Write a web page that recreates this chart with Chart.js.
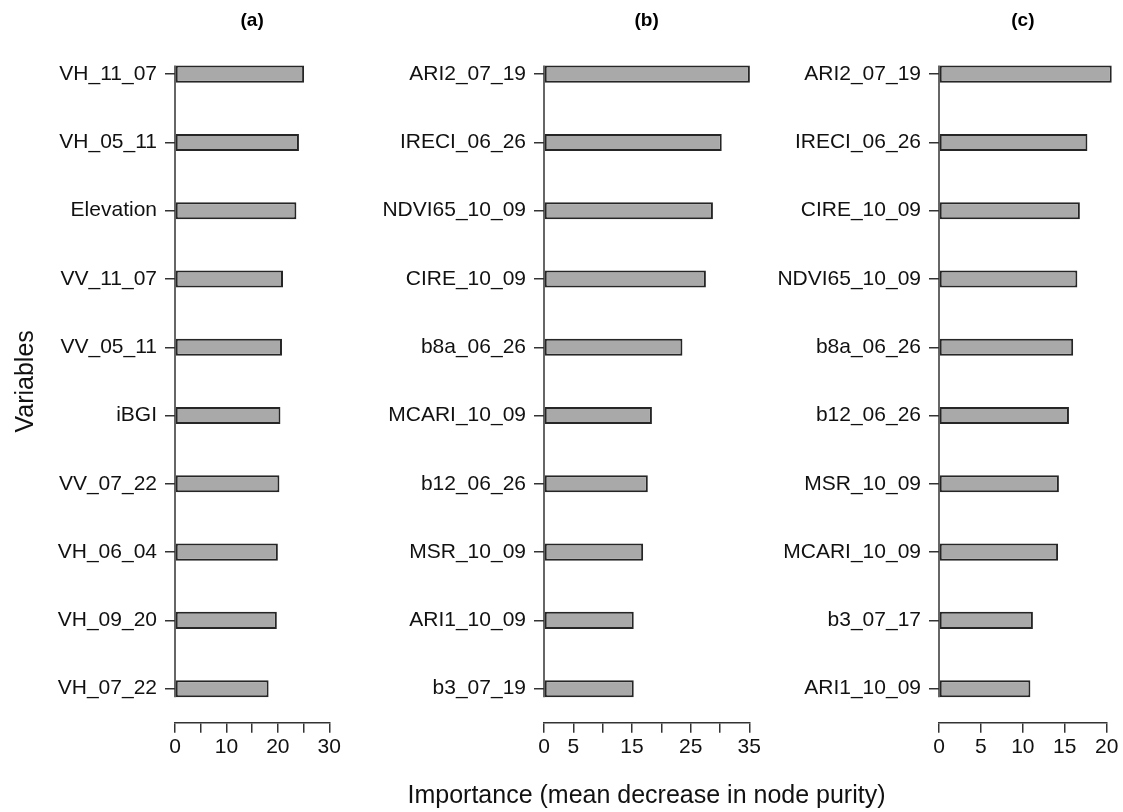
<!DOCTYPE html>
<html>
<head>
<meta charset="utf-8">
<script src="https://cdn.jsdelivr.net/npm/chart.js@4.4.1/dist/chart.umd.min.js"></script>
<style>
  html, body { margin: 0; padding: 0; background: #fff; }
  #page { position: relative; width: 1123px; height: 812px; overflow: hidden; background: #fff; }
  canvas { position: absolute; top: 0; }
</style>
</head>
<body>
<div id="page">
  <canvas id="chartA" width="345" height="812" style="left:0px"></canvas>
  <canvas id="chartB" width="543" height="812" style="left:375px"></canvas>
  <canvas id="chartC" width="363" height="812" style="left:760px"></canvas>
</div>
<script>
// ---- data ----
const labelsA = ['VH_11_07', 'VH_05_11', 'Elevation', 'VV_11_07', 'VV_05_11', 'iBGI', 'VV_07_22', 'VH_06_04', 'VH_09_20', 'VH_07_22'];
const valuesA = [25.1, 24.1, 23.6, 21.0, 20.8, 20.5, 20.3, 20.0, 19.8, 18.2];
const ticksA = [0, 10, 20, 30];

const labelsB = ['ARI2_07_19', 'IRECI_06_26', 'NDVI65_10_09', 'CIRE_10_09', 'b8a_06_26', 'MCARI_10_09', 'b12_06_26', 'MSR_10_09', 'ARI1_10_09', 'b3_07_19'];
const valuesB = [35.1, 30.3, 28.8, 27.6, 23.6, 18.4, 17.7, 16.9, 15.3, 15.3];
const ticksB = [0, 5, 15, 25, 35];

const labelsC = ['ARI2_07_19', 'IRECI_06_26', 'CIRE_10_09', 'NDVI65_10_09', 'b8a_06_26', 'b12_06_26', 'MSR_10_09', 'MCARI_10_09', 'b3_07_17', 'ARI1_10_09'];
const valuesC = [20.6, 17.7, 16.8, 16.5, 16.0, 15.5, 14.3, 14.2, 11.2, 10.9];
const ticksC = [0, 5, 10, 15, 20];

const xTitle = 'Importance (mean decrease in node purity)';
const yTitle = 'Variables';

// ---- styles ----
const FONT = "'Liberation Sans', Arial, Helvetica, sans-serif";
const axisColor = '#333333';
const barEdge = '#262626';
const barFill = '#a9a9a9';

// y axis line only spans the bars (like R's barplot axis)
const axisLines = {
  id: 'axisLines',
  afterDatasetsDraw(chart) {
    const bars = chart.getDatasetMeta(0).data;
    const first = bars[0], last = bars[bars.length - 1];
    const x = chart.chartArea.left;
    const ctx = chart.ctx;
    ctx.save();
    ctx.strokeStyle = axisColor;
    ctx.lineWidth = 1.5;
    ctx.beginPath();
    ctx.moveTo(x, first.y - first.height / 2);
    ctx.lineTo(x, last.y + last.height / 2);
    ctx.stroke();
    ctx.restore();
  }
};

function makePanel(id, cfg) {
  new Chart(document.getElementById(id), {
    type: 'bar',
    data: {
      labels: cfg.labels,
      datasets: [{
        data: cfg.values,
        backgroundColor: barFill,
        borderColor: barEdge,
        borderWidth: 2,
        borderSkipped: false,
        categoryPercentage: 1,
        barPercentage: 0.25,
        clip: false
      }]
    },
    options: {
      indexAxis: 'y',
      responsive: false,
      devicePixelRatio: 1,
      animation: false,
      layout: { padding: 0 },
      plugins: {
        legend: { display: false },
        tooltip: { enabled: false },
        title: {
          display: true,
          text: cfg.title,
          fullSize: false,
          color: '#000',
          font: { family: FONT, size: 19, weight: 'bold' },
          padding: { top: 9, bottom: 8.2 }
        },
        // the shared x title lives in the middle panel, centred on the page
        subtitle: {
          display: !!cfg.showX,
          position: 'bottom',
          fullSize: true,
          text: xTitle,
          color: '#111',
          font: { family: FONT, size: 25 },
          padding: { top: 0, bottom: 1 }
        }
      },
      scales: {
        x: {
          type: 'linear',
          min: 0,
          max: cfg.max,
          afterFit: function(scale) { scale.height = cfg.showX ? 58.2 : 89.2; },
          border: { display: true, color: axisColor, width: 1.5 },
          grid: { drawOnChartArea: false, drawTicks: true, tickLength: 10, color: axisColor, lineWidth: 1.5 },
          ticks: {
            stepSize: 5,
            autoSkip: false,
            maxRotation: 0,
            padding: 2,
            color: '#111',
            font: { family: FONT, size: 21 },
            callback: function(v) { return cfg.tickLabels.includes(v) ? String(v) : ''; }
          }
        },
        y: {
          afterFit: function(scale) { scale.width = cfg.yWidth; },
          border: { display: false },
          grid: { drawOnChartArea: false, drawTicks: true, tickLength: 10, offset: false, color: axisColor, lineWidth: 1.5 },
          ticks: {
            autoSkip: false,
            padding: 8,
            color: '#111',
            font: { family: FONT, size: 21 }
          },
          title: {
            display: !!cfg.showY,
            text: yTitle,
            color: '#111',
            font: { family: FONT, size: 25 },
            padding: { top: 11, bottom: 0 }
          }
        },
        // empty right-hand axis, only reserves the white space right of the plot
        pad: {
          type: 'linear',
          position: 'right',
          afterFit: function(scale) { scale.width = cfg.padRight; },
          border: { display: false },
          grid: { display: false },
          ticks: { display: false }
        }
      }
    },
    plugins: [axisLines]
  });
}

makePanel('chartA', { title: '(a)', labels: labelsA, values: valuesA, max: 30, tickLabels: ticksA, yWidth: 175, padRight: 15.7, showY: true });
makePanel('chartB', { title: '(b)', labels: labelsB, values: valuesB, max: 35, tickLabels: ticksB, yWidth: 169, padRight: 168.7, showX: true });
makePanel('chartC', { title: '(c)', labels: labelsC, values: valuesC, max: 20, tickLabels: ticksC, yWidth: 179, padRight: 16.3 });
</script>
</body>
</html>
